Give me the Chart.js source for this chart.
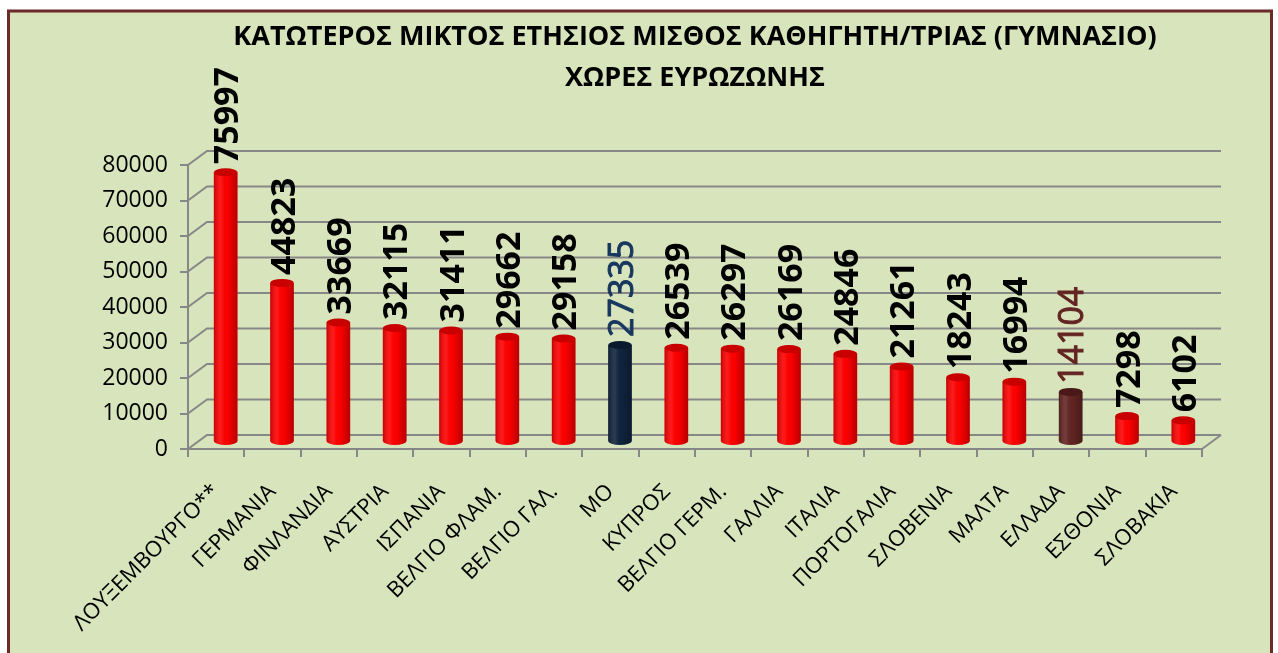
<!DOCTYPE html>
<html lang="el">
<head>
  <meta charset="UTF-8">
  <title>Κατώτερος μικτός ετήσιος μισθός καθηγητή/τριας</title>
  <script src="https://cdn.jsdelivr.net/npm/chart.js"></script>
  <style>
    html, body { margin: 0; padding: 0; background: #ffffff; }
    #wrap { width: 1278px; height: 653px; }
  </style>
</head>
<body>
  <div id="wrap"><canvas id="salaryChart" width="1278" height="653"></canvas></div>

  <script>
    // Data
    const countries = ['ΛΟΥΞΕΜΒΟΥΡΓΟ**', 'ΓΕΡΜΑΝΙΑ', 'ΦΙΝΛΑΝΔΙΑ', 'ΑΥΣΤΡΙΑ', 'ΙΣΠΑΝΙΑ', 'ΒΕΛΓΙΟ ΦΛΑΜ.',
      'ΒΕΛΓΙΟ ΓΑΛ.', 'ΜΟ', 'ΚΥΠΡΟΣ', 'ΒΕΛΓΙΟ ΓΕΡΜ.', 'ΓΑΛΛΙΑ', 'ΙΤΑΛΙΑ', 'ΠΟΡΤΟΓΑΛΙΑ',
      'ΣΛΟΒΕΝΙΑ', 'ΜΑΛΤΑ', 'ΕΛΛΑΔΑ', 'ΕΣΘΟΝΙΑ', 'ΣΛΟΒΑΚΙΑ'];
    const salaries = [75997, 44823, 33669, 32115, 31411, 29662, 29158, 27335, 26539, 26297,
      26169, 24846, 21261, 18243, 16994, 14104, 7298, 6102];
    const titleLines = ['ΚΑΤΩΤΕΡΟΣ ΜΙΚΤΟΣ ΕΤΗΣΙΟΣ ΜΙΣΘΟΣ ΚΑΘΗΓΗΤΗ/ΤΡΙΑΣ (ΓΥΜΝΑΣΙΟ)', 'ΧΩΡΕΣ ΕΥΡΩΖΩΝΗΣ'];
    const yMin = 0;
    const yMax = 80000;
    const yStep = 10000;

    // Styling
    const FONT = '"Open Sans", "Noto Sans", sans-serif';
    const GRID = '#878787';
    const DEPTH_X = 19;   // 3D depth of the plot box
    const DEPTH_Y = 14;
    const barStyle = {
      default: { fill: '#ff0000', cap: '#c80000', label: '#000000', weight: 'bold', stroke: 0 },
      'ΜΟ': { fill: '#10243e', cap: '#0a1a2e', label: '#17375e', weight: 'normal', stroke: 1 },
      'ΕΛΛΑΔΑ': { fill: '#632523', cap: '#4a1816', label: '#632523', weight: 'normal', stroke: 1 }
    };
    const styleFor = name => barStyle[name] || barStyle.default;

    // Green panel with dark red frame
    const framePlugin = {
      id: 'frame',
      beforeDraw(chart) {
        const ctx = chart.ctx;
        ctx.save();
        ctx.fillStyle = '#ffffff';
        ctx.fillRect(0, 0, chart.width, chart.height);
        ctx.fillStyle = '#d8e4bc';
        ctx.fillRect(8, 11, 1263, chart.height);
        ctx.strokeStyle = '#6b2a28';
        ctx.lineWidth = 3;
        ctx.strokeRect(8.5, 11, 1263, chart.height + 10);
        ctx.restore();
      }
    };

    // Back wall, side wall and floor of the 3D box, then shift the bars to mid depth
    const box3dPlugin = {
      id: 'box3d',
      beforeDatasetsDraw(chart) {
        const ctx = chart.ctx;
        const y = chart.scales.y;
        const a = chart.chartArea;
        ctx.save();
        ctx.strokeStyle = GRID;
        ctx.lineWidth = 2;
        y.ticks.forEach(t => {
          const py = y.getPixelForValue(t.value);
          ctx.beginPath();
          ctx.moveTo(a.left, py);
          ctx.lineTo(a.left + DEPTH_X, py - DEPTH_Y);
          ctx.lineTo(a.right + DEPTH_X, py - DEPTH_Y);
          ctx.stroke();
        });
        const py0 = y.getPixelForValue(yMin);
        ctx.beginPath();
        ctx.moveTo(a.right, py0);
        ctx.lineTo(a.right + DEPTH_X, py0 - DEPTH_Y);
        ctx.stroke();
        ctx.restore();

        ctx.save();
        ctx.translate(DEPTH_X / 2, -DEPTH_Y / 2);
      },
      afterDatasetsDraw(chart) {
        const ctx = chart.ctx;
        const meta = chart.getDatasetMeta(0);
        meta.data.forEach((bar, i) => {
          const st = styleFor(countries[i]);
          const w = bar.width;
          const left = bar.x - w / 2;
          const ry = 4;

          // rounded bottom
          ctx.fillStyle = st.fill;
          ctx.beginPath();
          ctx.ellipse(bar.x, bar.base, w / 2, ry, 0, 0, Math.PI);
          ctx.fill();

          // cylinder shading
          const g = ctx.createLinearGradient(left, 0, left + w, 0);
          g.addColorStop(0, 'rgba(0,0,0,0.22)');
          g.addColorStop(0.3, 'rgba(255,255,255,0.10)');
          g.addColorStop(0.55, 'rgba(0,0,0,0)');
          g.addColorStop(1, 'rgba(0,0,0,0.28)');
          ctx.fillStyle = g;
          ctx.fillRect(left, bar.y, w, bar.base - bar.y);
          ctx.beginPath();
          ctx.ellipse(bar.x, bar.base, w / 2, ry, 0, 0, Math.PI);
          ctx.fill();

          // top cap
          ctx.fillStyle = st.cap;
          ctx.beginPath();
          ctx.ellipse(bar.x, bar.y, w / 2, ry, 0, 0, Math.PI * 2);
          ctx.fill();

          // value label, rotated
          ctx.save();
          ctx.translate(bar.x + 3, bar.y - 8);
          ctx.rotate(-Math.PI / 2);
          ctx.font = st.weight + ' 34px ' + FONT;
          ctx.fillStyle = st.label;
          ctx.textAlign = 'left';
          ctx.textBaseline = 'middle';
          ctx.fillText(String(salaries[i]), 0, 0);
          if (st.stroke) {
            ctx.strokeStyle = st.label;
            ctx.lineWidth = st.stroke;
            ctx.strokeText(String(salaries[i]), 0, 0);
          }
          ctx.restore();
        });
        ctx.restore();
      }
    };

    const ctx = document.getElementById('salaryChart').getContext('2d');
    const chart = new Chart(ctx, {
      type: 'bar',
      data: {
        labels: countries,
        datasets: [{
          data: salaries,
          backgroundColor: countries.map(c => styleFor(c).fill),
          borderWidth: 0,
          categoryPercentage: 1,
          barPercentage: 0.42,
          clip: false
        }]
      },
      options: {
        responsive: false,
        animation: false,
        devicePixelRatio: 1,
        layout: { padding: { left: 0, right: 76, top: 0, bottom: 0 } },
        plugins: {
          legend: { display: false },
          tooltip: { enabled: false },
          title: {
            display: true,
            text: titleLines,
            fullSize: false,
            color: '#000000',
            font: { family: FONT, size: 27, weight: 'bold', lineHeight: '41px' },
            padding: { top: 16.5, bottom: 66.5 }
          }
        },
        scales: {
          x: {
            offset: true,
            grid: { offset: true, drawOnChartArea: false, drawTicks: true, tickLength: 8, color: GRID, lineWidth: 2 },
            border: { display: true, color: GRID, width: 2 },
            ticks: {
              autoSkip: false, minRotation: 45, maxRotation: 45, padding: 22,
              color: '#000000', font: { family: FONT, size: 22 }
            },
            afterFit(scale) { scale.height = 204; }
          },
          y: {
            min: yMin,
            max: yMax,
            grid: { drawOnChartArea: false, drawTicks: true, tickLength: 8, color: GRID, lineWidth: 2 },
            border: { display: true, color: GRID, width: 2 },
            ticks: {
              stepSize: yStep, padding: 12,
              color: '#000000', font: { family: FONT, size: 23 },
              callback: v => String(v)
            },
            afterFit(scale) { scale.width = 188; }
          }
        }
      },
      plugins: [framePlugin, box3dPlugin]
    });
  </script>
</body>
</html>
